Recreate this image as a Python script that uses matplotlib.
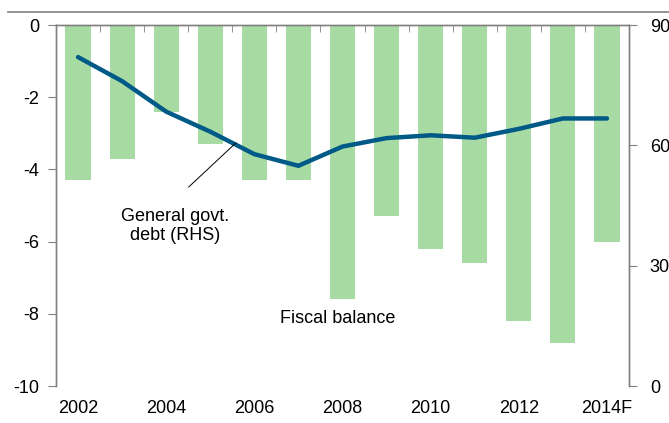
import matplotlib
matplotlib.use('Agg')
import matplotlib.pyplot as plt
from matplotlib.lines import Line2D
import numpy as np

plt.rcParams['font.family'] = ['Liberation Sans', 'DejaVu Sans']
plt.rcParams['axes.unicode_minus'] = False

years = ['2002', '2003', '2004', '2005', '2006', '2007', '2008',
         '2009', '2010', '2011', '2012', '2013', '2014F']
fiscal_balance = [-4.3, -3.7, -2.4, -3.3, -4.3, -4.3, -7.6,
                  -5.3, -6.2, -6.6, -8.2, -8.8, -6.0]
govt_debt = [82.0, 76.0, 68.4, 63.4, 57.8, 54.9, 59.7,
             61.8, 62.5, 61.9, 64.1, 66.7, 66.7]

bar_color = '#a8dba4'
line_color = '#005a87'
axis_gray = '#808080'
fs = 13

fig = plt.figure(figsize=(6.69, 4.23), dpi=100)
ax = fig.add_axes([56 / 669, 1 - 386 / 423, (629 - 56) / 669, (386 - 25) / 423])
ax2 = ax.twinx()

x = np.arange(len(years))
ax.bar(x, fiscal_balance, width=0.57, color=bar_color, zorder=2)
ax.set_ylim(-10, 0)
ax.set_xlim(-0.5, len(years) - 0.5)
ax.set_yticks([0, -2, -4, -6, -8, -10])

ax2.plot(x, govt_debt, color=line_color, lw=3.2, solid_capstyle='round', zorder=3)
ax2.set_ylim(0, 90)
ax2.set_yticks([0, 30, 60, 90])

# year labels at the bottom, boundary ticks on the zero line at the top
ax.set_xticks(x[::2])
ax.set_xticklabels(years[::2])
ax.set_xticks(np.arange(-0.5, len(years), 1.0), minor=True)
ax.tick_params(axis='x', which='major', length=0, pad=10, labelsize=fs)
ax.tick_params(axis='x', which='minor', bottom=False, top=True, direction='in',
               length=5, color=axis_gray)
ax.tick_params(axis='y', length=6, color=axis_gray, labelsize=fs, pad=6)
ax2.tick_params(axis='y', length=6, color=axis_gray, labelsize=fs, pad=9)

for a in (ax, ax2):
    a.spines['bottom'].set_visible(False)
    for s in ('top', 'left', 'right'):
        a.spines[s].set_color(axis_gray)
        a.spines[s].set_linewidth(1.0)
ax.set_zorder(ax2.get_zorder() - 1)
ax2.patch.set_visible(False)

# labels
ax2.annotate('', xy=(3.58, 60.6), xytext=(2.51, 49.6),
             arrowprops=dict(arrowstyle='-', color='black', lw=0.7,
                             shrinkA=0, shrinkB=0))
ax2.text(2.2, 40.0, 'General govt.\ndebt (RHS)', ha='center', va='center',
         fontsize=fs, linespacing=1.15)
ax.text(5.9, -8.12, 'Fiscal balance', ha='center', va='center', fontsize=fs)

# gray rule at the top of the figure
fig.add_artist(Line2D([8 / 669, 1], [1 - 12 / 423, 1 - 12 / 423],
                      color=axis_gray, lw=1.2, transform=fig.transFigure))

fig.savefig('out.png', dpi=100)
